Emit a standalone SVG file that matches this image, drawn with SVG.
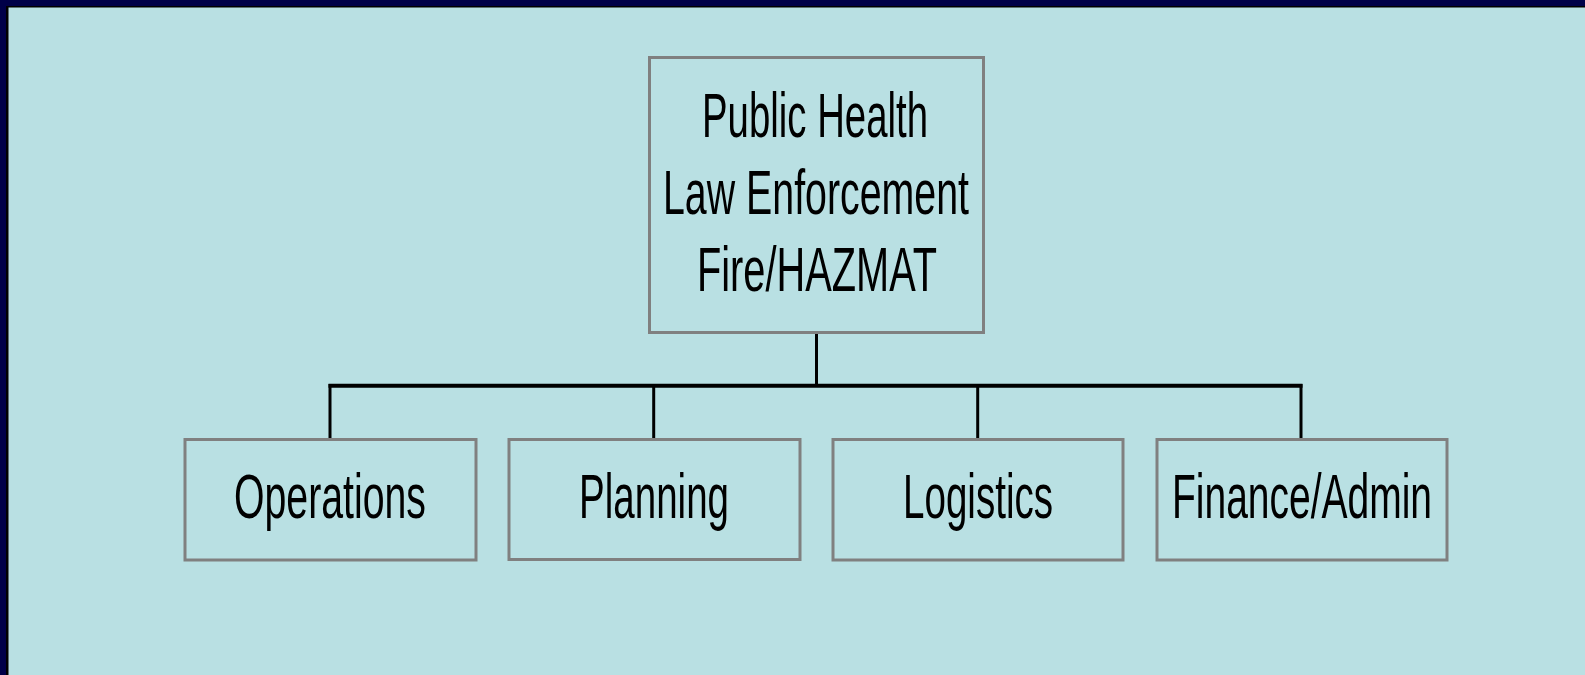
<svg xmlns="http://www.w3.org/2000/svg" width="1585" height="675" viewBox="0 0 1585 675">
<style>
.box{fill:#B9E0E3;stroke:#808080;stroke-width:3}
.lbl{font-family:"Liberation Sans",Arial,sans-serif;font-size:63px;fill:#000;text-anchor:middle}
.conn{stroke:#000;fill:none}
</style>
<rect x="0" y="0" width="1585" height="675" fill="#000048"/>
<rect x="6" y="6" width="1579" height="669" fill="#000"/>
<rect x="8.5" y="7.5" width="1576.5" height="667.5" fill="#B9E0E3"/>
<g id="connectors">
<line class="conn" x1="816.5" y1="332" x2="816.5" y2="387" stroke-width="3"/>
<line class="conn" x1="328.5" y1="385.7" x2="1302.5" y2="385.7" stroke-width="4"/>
<line class="conn" x1="330" y1="384" x2="330" y2="439" stroke-width="3"/>
<line class="conn" x1="653.7" y1="384" x2="653.7" y2="439" stroke-width="3"/>
<line class="conn" x1="977.7" y1="384" x2="977.7" y2="439" stroke-width="3"/>
<line class="conn" x1="1301" y1="384" x2="1301" y2="439" stroke-width="3"/>
</g>
<g id="top">
<rect class="box" x="649.5" y="57.5" width="334" height="275"/>
<text class="lbl" x="815" y="137" textLength="226" lengthAdjust="spacingAndGlyphs">Public Health</text>
<text class="lbl" x="816" y="214" textLength="306" lengthAdjust="spacingAndGlyphs">Law Enforcement</text>
<text class="lbl" x="817" y="291" textLength="240" lengthAdjust="spacingAndGlyphs">Fire/HAZMAT</text>
</g>
<g id="operations">
<rect class="box" x="185" y="439.5" width="291" height="120.5"/>
<text class="lbl" x="330" y="518" textLength="192" lengthAdjust="spacingAndGlyphs">Operations</text>
</g>
<g id="planning">
<rect class="box" x="509" y="439.5" width="291" height="120"/>
<text class="lbl" x="654" y="518" textLength="150" lengthAdjust="spacingAndGlyphs">Planning</text>
</g>
<g id="logistics">
<rect class="box" x="833" y="439.5" width="290" height="120.5"/>
<text class="lbl" x="978" y="518" textLength="150" lengthAdjust="spacingAndGlyphs">Logistics</text>
</g>
<g id="finance">
<rect class="box" x="1157" y="439.5" width="290" height="120.5"/>
<text class="lbl" x="1302" y="518" textLength="260" lengthAdjust="spacingAndGlyphs">Finance/Admin</text>
</g>
</svg>
